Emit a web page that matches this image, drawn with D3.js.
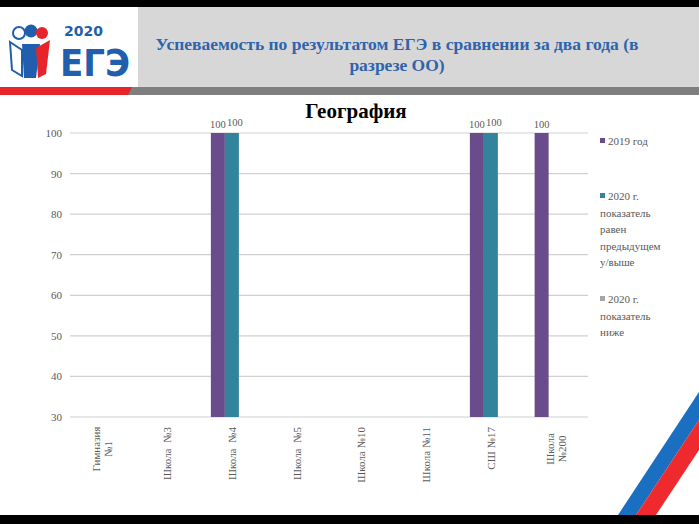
<!DOCTYPE html>
<html><head><meta charset="utf-8">
<script src="https://cdn.jsdelivr.net/npm/d3@7"></script>
<style>html,body{margin:0;padding:0;background:#fff;}svg{display:block;}
.srf{font-family:"Liberation Serif","Times New Roman","DejaVu Serif",serif;}</style>
</head><body>
<script>
const categories = ["Гимназия №1","Школа №3","Школа №4","Школа №5","Школа №10","Школа №11","СШ №17","Школа №200"];
const categoryLines = [["Гимназия","№1"],["Школа  №3"],["Школа  №4"],["Школа  №5"],["Школа №10"],["Школа №11"],["СШ №17"],["Школа","№200"]];
const series2019 = [null,null,100,null,null,null,100,100];
const series2020up = [null,null,100,null,null,null,100,null];
const series2020down = [null,null,null,null,null,null,null,null];
const seriesNames = ["2019 год","2020 г. показатель равен предыдущем у/выше","2020 г. показатель ниже"];
const legendLines = [["2019 год"],["2020 г.","показатель","равен","предыдущем","у/выше"],["2020 г.","показатель","ниже"]];
const seriesColors = ["#6a4c8c","#31849b","#a6a6a6"];
const yTicks = [30,40,50,60,70,80,90,100];
const chartTitle = "География";
const headerLines = ["Успеваемость по результатом ЕГЭ в сравнении за два года (в","разрезе ОО)"];

const W=699,H=524;
const svg=d3.select("body").append("svg").attr("width",W).attr("height",H);

svg.append("rect").attr("x",0).attr("y",0).attr("width",W).attr("height",7).attr("fill","#000");
svg.append("rect").attr("x",0).attr("y",515).attr("width",W).attr("height",9).attr("fill","#000");
svg.append("rect").attr("x",138).attr("y",7).attr("width",W-138).attr("height",80).attr("fill","#d7d7d7");
svg.append("rect").attr("x",0).attr("y",87).attr("width",W).attr("height",8).attr("fill","#7f7f7f");
svg.append("path").attr("d","M0,87 L132,87 L128,95 L0,95 Z").attr("fill","#e8242b");
svg.append("rect").attr("x",0).attr("y",7).attr("width",138).attr("height",80).attr("fill","#fff");
const lg=svg.append("g");
lg.append("circle").attr("cx",19).attr("cy",33).attr("r",6).attr("fill","#fff").attr("stroke","#1f5fae").attr("stroke-width",2);
lg.append("circle").attr("cx",31).attr("cy",31).attr("r",6.5).attr("fill","#1f5fae");
lg.append("circle").attr("cx",42).attr("cy",33).attr("r",6).attr("fill","#e8242b");
lg.append("path").attr("d","M10,42 L22,50 L22,76 L12,70 Z").attr("fill","#fff").attr("stroke","#1f5fae").attr("stroke-width",2);
lg.append("path").attr("d","M22,44 L40,44 L36,78 L24,78 Z").attr("fill","#1f5fae");
lg.append("path").attr("d","M36,48 L50,40 L46,74 L38,78 Z").attr("fill","#e8242b");
lg.append("text").attr("x",64).attr("y",36).style("font-family","'DejaVu Sans',sans-serif").attr("font-weight","bold").attr("font-size",14).attr("fill","#1f5fae").text("2020");
lg.append("text").attr("x",60).attr("y",76).style("font-family","'DejaVu Sans',sans-serif").attr("font-weight","bold").attr("font-size",38).attr("fill","#1f5fae").attr("textLength",70).attr("lengthAdjust","spacingAndGlyphs").text("ЕГЭ");
headerLines.forEach((t,i)=>svg.append("text").attr("class","srf").attr("x",397).attr("y",50+i*21).attr("text-anchor","middle")
  .attr("font-weight","bold").attr("font-size",17.5).attr("fill","#2e64ac").text(t));
svg.append("path").attr("d","M618,515 L699,392 L699,420 L636,515 Z").attr("fill","#1b6fc0");
svg.append("path").attr("d","M636,515 L699,420 L699,450 L656,515 Z").attr("fill","#ee2a2f");

const m={l:70,r:588,t:133,b:417};
const x0=d3.scaleBand().domain(categories).range([m.l,m.r]);
const keys=[0,1,2];
const x1=d3.scaleBand().domain(keys).range([0,42]);
const y=d3.scaleLinear().domain([30,100]).range([m.b,m.t]);

svg.append("g").selectAll("line").data(yTicks).join("line")
  .attr("x1",m.l).attr("x2",m.r).attr("y1",d=>y(d)).attr("y2",d=>y(d))
  .attr("stroke","#d0d0d0").attr("stroke-width",1.2);
const yAxis=svg.append("g").attr("transform",`translate(${m.l},0)`)
  .call(d3.axisLeft(y).tickValues(yTicks).tickSize(0).tickPadding(8));
yAxis.attr("font-family",null);
yAxis.select(".domain").remove();
yAxis.selectAll("text").attr("class","srf").attr("font-size",11).attr("fill","#595959");

svg.append("text").attr("class","srf").attr("x",356).attr("y",118).attr("text-anchor","middle")
  .attr("font-weight","bold").attr("font-size",21).attr("fill","#000").text(chartTitle);

const allSeries=[series2019,series2020up,series2020down];
const barsData=[];
allSeries.forEach((s,k)=>s.forEach((v,i)=>{ if(v!=null) barsData.push({k,i,v}); }));
const bw=x1.bandwidth();
svg.append("g").selectAll("rect").data(barsData).join("rect")
  .attr("x",d=>x0(categories[d.i])+x0.bandwidth()/2-21+x1(d.k))
  .attr("y",d=>y(d.v)).attr("width",bw).attr("height",d=>y(30)-y(d.v))
  .attr("fill",d=>seriesColors[d.k]);
svg.append("g").selectAll("text").data(barsData).join("text").attr("class","srf")
  .attr("x",d=>x0(categories[d.i])+x0.bandwidth()/2-21+x1(d.k)+bw/2+(d.k===1?3:0))
  .attr("y",d=>y(d.v)-(d.k===1?7:5)).attr("text-anchor","middle")
  .attr("font-size",10.5).attr("fill","#595959").text(d=>d.v);

const xl=svg.append("g");
categories.forEach((c,i)=>{
  const cx=x0(c)+x0.bandwidth()/2;
  const lines=categoryLines[i];
  const g=xl.append("g").attr("transform",`translate(${cx},427) rotate(-90)`);
  lines.forEach((ln,j)=>{
    const off=(j-(lines.length-1)/2)*12;
    g.append("text").attr("class","srf").attr("x",0).attr("y",off+4).attr("text-anchor",lines.length>1?"middle":"end")
      .attr("dx",lines.length>1?-22:0)
      .attr("font-size",11).attr("fill","#595959").style("white-space","pre").text(ln);
  });
});

const legY=[145,200,303];
legendLines.forEach((lines,k)=>{
  svg.append("rect").attr("x",600).attr("y",legY[k]-7).attr("width",5).attr("height",5).attr("fill",seriesColors[k]);
  lines.forEach((ln,j)=>svg.append("text").attr("class","srf").attr("x",j===0?608:600).attr("y",legY[k]+j*16.5)
    .attr("font-size",11).attr("fill","#595959").text(ln));
});
</script>
</body></html>
